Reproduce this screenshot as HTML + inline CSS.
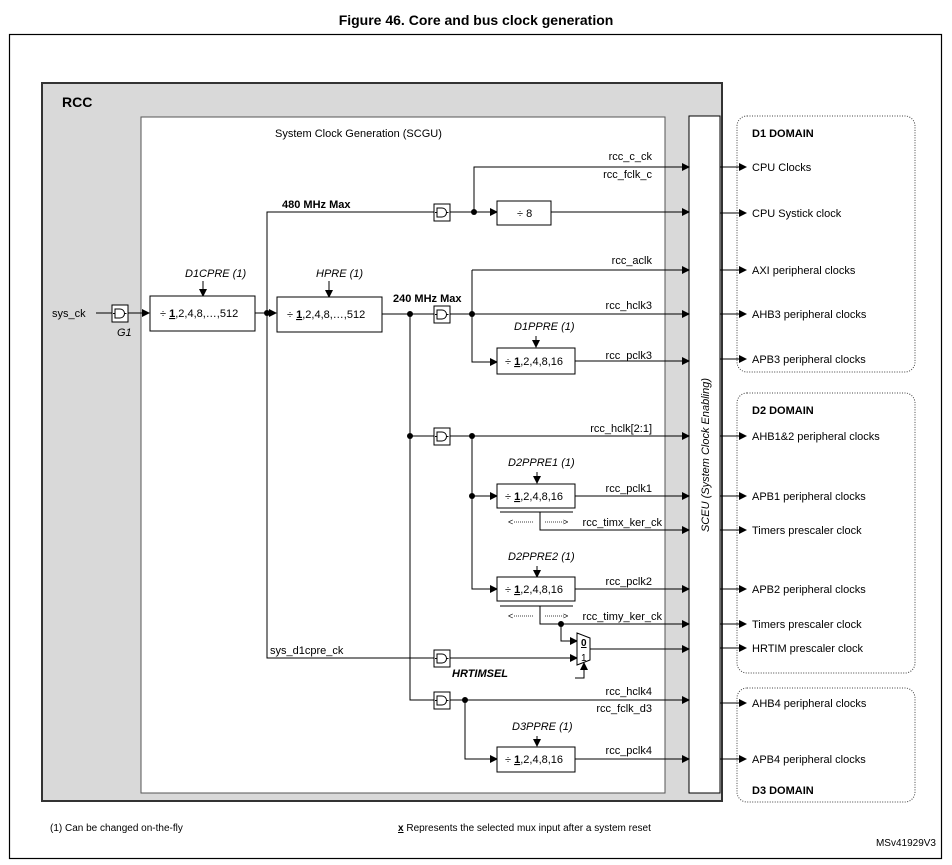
<!DOCTYPE html>
<html><head><meta charset="utf-8"><style>
html,body{margin:0;padding:0;background:#fff}
svg{display:block}
text{font-family:"Liberation Sans",Arial,sans-serif;font-size:11px;fill:#000}
.i{font-style:italic}
.b{font-weight:bold}
</style></head><body>
<svg width="952" height="865" viewBox="0 0 952 865" xmlns="http://www.w3.org/2000/svg">
<defs>
<marker id="a" markerWidth="8" markerHeight="8" refX="7" refY="4" orient="auto" markerUnits="userSpaceOnUse"><path d="M0,0 L8,4 L0,8 Z" fill="#000"/></marker>
<g id="gate"><rect x="0" y="0" width="16" height="17" fill="#fff" stroke="#000" stroke-width="1"/><path d="M3,4 h5 a4.5,4.5 0 0 1 0,9 h-5 Z M1,8.5 h2 M12.5,8.5 h2" fill="none" stroke="#000" stroke-width="1"/></g>
</defs>
<text x="476" y="25" text-anchor="middle" class="b" style="font-size:14px">Figure 46. Core and bus clock generation</text>
<rect x="9.5" y="34.5" width="932" height="824" fill="#fff" stroke="#000" stroke-width="1.2"/>
<rect x="42" y="83" width="680" height="718" fill="#d9d9d9" stroke="#333" stroke-width="2"/>
<rect x="141" y="117" width="524" height="676" fill="#fff" stroke="#555" stroke-width="1"/>
<rect x="689" y="116" width="31" height="677" fill="#fff" stroke="#000" stroke-width="1"/>
<text x="62" y="107" class="b" style="font-size:14px">RCC</text>
<text x="275" y="137">System Clock Generation (SCGU)</text>
<text transform="translate(709,455) rotate(-90)" text-anchor="middle" class="i">SCEU (System Clock Enabling)</text>
<!-- domains -->
<g fill="none" stroke="#444" stroke-dasharray="1,1.5">
<rect x="737" y="116" width="178" height="256" rx="10"/>
<rect x="737" y="393" width="178" height="280" rx="10"/>
<rect x="737" y="688" width="178" height="114" rx="10"/>
</g>
<g class="b"><text x="752" y="137" class="b">D1 DOMAIN</text><text x="752" y="414" class="b">D2 DOMAIN</text><text x="752" y="794" class="b">D3 DOMAIN</text></g>
<g stroke="#000" stroke-width="1" fill="none" marker-end="url(#a)">
<path d="M720,167H746"/><path d="M720,213H746"/><path d="M720,270H746"/><path d="M720,314H746"/><path d="M720,359H746"/><path d="M720,436H746"/><path d="M720,496H746"/><path d="M720,530H746"/><path d="M720,589H746"/><path d="M720,624H746"/><path d="M720,648H746"/><path d="M720,703H746"/><path d="M720,759H746"/>
</g>
<g>
<text x="752" y="171">CPU Clocks</text><text x="752" y="217">CPU Systick clock</text><text x="752" y="274">AXI peripheral clocks</text><text x="752" y="318">AHB3 peripheral clocks</text><text x="752" y="363">APB3 peripheral clocks</text><text x="752" y="440">AHB1&amp;2 peripheral clocks</text><text x="752" y="500">APB1 peripheral clocks</text><text x="752" y="534">Timers prescaler clock</text><text x="752" y="593">APB2 peripheral clocks</text><text x="752" y="628">Timers prescaler clock</text><text x="752" y="652">HRTIM prescaler clock</text><text x="752" y="707">AHB4 peripheral clocks</text><text x="752" y="763">APB4 peripheral clocks</text>
</g>
<!-- wires -->
<g stroke="#000" stroke-width="1" fill="none">
<path d="M96,313H112"/><path d="M128,313H149" marker-end="url(#a)"/>
<path d="M203,281V296" marker-end="url(#a)"/>
<path d="M255,313H276" marker-end="url(#a)"/>
<path d="M267,313V212H434"/><path d="M267,313V658H434"/>
<path d="M329,281V297" marker-end="url(#a)"/>
<path d="M382,314H434"/><path d="M410,314V700H434"/>
<path d="M410,436H434"/>
<path d="M450,212H497" marker-end="url(#a)"/><path d="M474,212V167H689" marker-end="url(#a)"/>
<path d="M551,212H689" marker-end="url(#a)"/>
<path d="M450,314H689" marker-end="url(#a)"/><path d="M472,270H689" marker-end="url(#a)"/><path d="M472,270V362H497" marker-end="url(#a)"/>
<path d="M536,336V347" marker-end="url(#a)"/><path d="M575,361H689" marker-end="url(#a)"/>
<path d="M450,436H689" marker-end="url(#a)"/><path d="M472,436V589H497" marker-end="url(#a)"/><path d="M472,496H497" marker-end="url(#a)"/>
<path d="M537,472V483" marker-end="url(#a)"/><path d="M575,496H689" marker-end="url(#a)"/>
<path d="M500,512H573"/><path d="M540,512V530H689" marker-end="url(#a)"/>
<path d="M537,566V577" marker-end="url(#a)"/><path d="M575,589H689" marker-end="url(#a)"/>
<path d="M500,606H573"/><path d="M540,606V624H689" marker-end="url(#a)"/>
<path d="M561,624V641H577" marker-end="url(#a)"/>
<path d="M450,658H577" marker-end="url(#a)"/>
<path d="M590,649H689" marker-end="url(#a)"/>
<path d="M575,678H584V663" marker-end="url(#a)"/>
<path d="M450,700H689" marker-end="url(#a)"/><path d="M465,700V759H497" marker-end="url(#a)"/>
<path d="M537,736V746" marker-end="url(#a)"/><path d="M575,759H689" marker-end="url(#a)"/>
</g>
<g stroke="#000" stroke-width="0.8" stroke-dasharray="1,1" fill="none">
<path d="M514,522H533"/><path d="M545,522H564"/>
</g>
<text x="508" y="525" style="font-size:9px">&lt;</text><text x="563" y="525" style="font-size:9px">&gt;</text>
<text x="508" y="619" style="font-size:9px">&lt;</text><text x="563" y="619" style="font-size:9px">&gt;</text>
<g stroke="#000" stroke-width="0.8" stroke-dasharray="1,1" fill="none">
<path d="M514,616H533"/><path d="M545,616H564"/>
</g>
<!-- dots -->
<g fill="#000"><circle cx="267" cy="313" r="3"/><circle cx="410" cy="314" r="3"/><circle cx="472" cy="314" r="3"/><circle cx="474" cy="212" r="3"/><circle cx="410" cy="436" r="3"/><circle cx="472" cy="436" r="3"/><circle cx="472" cy="496" r="3"/><circle cx="561" cy="624" r="3"/><circle cx="465" cy="700" r="3"/></g>
<!-- gates -->
<use href="#gate" x="112" y="305"/><use href="#gate" x="434" y="204"/><use href="#gate" x="434" y="306"/><use href="#gate" x="434" y="428"/><use href="#gate" x="434" y="650"/><use href="#gate" x="434" y="692"/>
<!-- boxes -->
<g fill="#fff" stroke="#000" stroke-width="1">
<rect x="150" y="296" width="105" height="35"/><rect x="277" y="297" width="105" height="35"/>
<rect x="497" y="201" width="54" height="24"/><rect x="497" y="348" width="78" height="26"/>
<rect x="497" y="484" width="78" height="24"/><rect x="497" y="577" width="78" height="24"/><rect x="497" y="747" width="78" height="25"/>
<path d="M577,633 L590,638 L590,660 L577,665 Z"/>
</g>
<text x="581" y="646" style="font-size:10px;text-decoration:underline" class="b">0</text><text x="581" y="661" style="font-size:10px">1</text>
<text x="160" y="317">÷ <tspan text-decoration="underline" class="b">1</tspan>,2,4,8,…,512</text>
<text x="287" y="318">÷ <tspan text-decoration="underline" class="b">1</tspan>,2,4,8,…,512</text>
<text x="517" y="217">÷ 8</text>
<text x="505" y="365">÷ <tspan text-decoration="underline" class="b">1</tspan>,2,4,8,16</text>
<text x="505" y="500">÷ <tspan text-decoration="underline" class="b">1</tspan>,2,4,8,16</text>
<text x="505" y="593">÷ <tspan text-decoration="underline" class="b">1</tspan>,2,4,8,16</text>
<text x="505" y="763">÷ <tspan text-decoration="underline" class="b">1</tspan>,2,4,8,16</text>
<!-- labels -->
<text x="52" y="317">sys_ck</text><text x="117" y="336" class="i">G1</text>
<text x="185" y="277" class="i">D1CPRE (1)</text><text x="316" y="277" class="i">HPRE (1)</text>
<text x="282" y="208" class="b">480 MHz Max</text><text x="393" y="302" class="b">240 MHz Max</text>
<text x="514" y="330" class="i">D1PPRE (1)</text><text x="508" y="466" class="i">D2PPRE1 (1)</text><text x="508" y="560" class="i">D2PPRE2 (1)</text><text x="512" y="730" class="i">D3PPRE (1)</text>
<text x="452" y="677" class="i b">HRTIMSEL</text>
<text x="270" y="654">sys_d1cpre_ck</text>
<g text-anchor="end">
<text x="652" y="160">rcc_c_ck</text><text x="652" y="178">rcc_fclk_c</text><text x="652" y="264">rcc_aclk</text><text x="652" y="309">rcc_hclk3</text><text x="652" y="359">rcc_pclk3</text>
<text x="652" y="432">rcc_hclk[2:1]</text><text x="652" y="492">rcc_pclk1</text><text x="662" y="526">rcc_timx_ker_ck</text><text x="652" y="585">rcc_pclk2</text><text x="662" y="620">rcc_timy_ker_ck</text>
<text x="652" y="695">rcc_hclk4</text><text x="652" y="712">rcc_fclk_d3</text><text x="652" y="754">rcc_pclk4</text>
</g>
<text x="50" y="831" style="font-size:10px">(1) Can be changed on-the-fly</text>
<text x="398" y="831" style="font-size:10px"><tspan class="b" text-decoration="underline">x</tspan> Represents the selected mux input after a system reset</text>
<text x="936" y="846" text-anchor="end" style="font-size:10px">MSv41929V3</text>
</svg>
</body></html>
